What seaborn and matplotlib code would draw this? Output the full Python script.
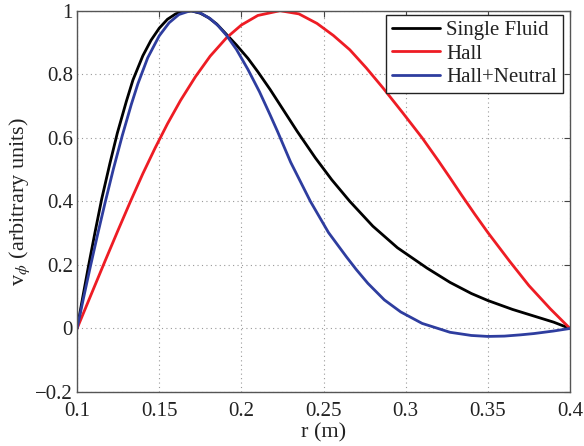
import numpy as np
import pandas as pd
import matplotlib
matplotlib.use("Agg")
import matplotlib.pyplot as plt
import seaborn as sns

# Single Fluid
r_single = [0.100, 0.1035, 0.107, 0.111, 0.115, 0.120, 0.1245, 0.130, 0.134, 0.140,
            0.145, 0.150, 0.155, 0.160, 0.165, 0.170, 0.175, 0.180, 0.185, 0.191,
            0.197, 0.204, 0.210, 0.2175, 0.225, 0.234, 0.245, 0.255, 0.266, 0.280,
            0.295, 0.313, 0.327, 0.340, 0.350, 0.365, 0.380, 0.390, 0.400]
v_single = [0.0, 0.10, 0.198, 0.305, 0.408, 0.52, 0.615, 0.715, 0.782, 0.858,
            0.907, 0.945, 0.973, 0.990, 0.998, 0.999, 0.992, 0.978, 0.958, 0.925,
            0.892, 0.850, 0.808, 0.752, 0.692, 0.620, 0.537, 0.468, 0.400, 0.322,
            0.254, 0.190, 0.145, 0.110, 0.088, 0.060, 0.036, 0.020, 0.0]

# Hall
r_hall = [0.100, 0.108, 0.117, 0.125, 0.1325, 0.140, 0.1475, 0.155, 0.163, 0.172,
          0.181, 0.191, 0.200, 0.210, 0.2235, 0.235, 0.246, 0.256, 0.266, 0.276,
          0.2865, 0.298, 0.310, 0.320, 0.327, 0.334, 0.342, 0.350, 0.3635, 0.375,
          0.388, 0.400]
v_hall = [0.0, 0.10, 0.212, 0.31, 0.40, 0.487, 0.568, 0.644, 0.718, 0.792,
          0.857, 0.915, 0.955, 0.985, 1.0, 0.990, 0.960, 0.922, 0.877, 0.820,
          0.755, 0.680, 0.600, 0.527, 0.474, 0.420, 0.360, 0.302, 0.210, 0.135,
          0.062, 0.0]

# Hall+Neutral
r_neutral = [0.100, 0.104, 0.108, 0.1125, 0.117, 0.122, 0.1275, 0.133, 0.137, 0.143,
             0.150, 0.156, 0.162, 0.169, 0.175, 0.181, 0.186, 0.191, 0.197, 0.204,
             0.211, 0.2175, 0.222, 0.230, 0.242, 0.253, 0.264, 0.270, 0.277, 0.287,
             0.297, 0.310, 0.327, 0.340, 0.350, 0.360, 0.370, 0.378, 0.390, 0.400]
v_neutral = [0.0, 0.098, 0.193, 0.296, 0.395, 0.500, 0.607, 0.705, 0.770, 0.852,
             0.921, 0.962, 0.988, 1.0, 0.993, 0.975, 0.952, 0.922, 0.878, 0.815,
             0.745, 0.672, 0.620, 0.523, 0.400, 0.302, 0.225, 0.185, 0.142, 0.090,
             0.052, 0.016, -0.012, -0.022, -0.025, -0.024, -0.020, -0.016, -0.008, 0.0]

series_names = ["Single Fluid", "Hall", "Hall+Neutral"]
colors = ["#000000", "#ee1c24", "#2e3d9f"]

x_ticks = [0.1, 0.15, 0.2, 0.25, 0.3, 0.35, 0.4]
x_tick_labels = ["0.1", "0.15", "0.2", "0.25", "0.3", "0.35", "0.4"]
y_ticks = [-0.2, 0, 0.2, 0.4, 0.6, 0.8, 1]
y_tick_labels = ["\u22120.2", "0", "0.2", "0.4", "0.6", "0.8", "1"]

df = pd.concat([
    pd.DataFrame({"r": r_single, "v": v_single, "model": series_names[0]}),
    pd.DataFrame({"r": r_hall, "v": v_hall, "model": series_names[1]}),
    pd.DataFrame({"r": r_neutral, "v": v_neutral, "model": series_names[2]}),
], ignore_index=True)

sns.set_style("white")
plt.rcParams["font.family"] = ["Liberation Serif", "DejaVu Serif"]
plt.rcParams["mathtext.fontset"] = "stix"

fig = plt.figure(figsize=(5.84, 4.46), dpi=100)
ax = fig.add_axes([0.132, 0.121, 0.844, 0.855])

sns.lineplot(data=df, x="r", y="v", hue="model", hue_order=series_names,
             palette=colors, linewidth=2.0, ax=ax, sort=False, estimator=None)
for ln in ax.get_lines():
    ln.set_solid_joinstyle("round")
    ln.set_solid_capstyle("round")

ax.set_xlim(0.1, 0.4)
ax.set_ylim(-0.2, 1.0)
ax.set_xticks(x_ticks)
ax.set_xticklabels(x_tick_labels)
ax.set_yticks(y_ticks)
ax.set_yticklabels(y_tick_labels)
ax.tick_params(axis="both", direction="in", length=4, width=0.8, colors="#444444",
               labelcolor="#222222", labelsize=15, top=True, right=True, pad=3)
ax.tick_params(axis="x", pad=7)
ax.grid(True, linestyle=(0, (1, 3)), color="#9a9a9a", linewidth=0.8)
for s in ax.spines.values():
    s.set_color("#555555")
    s.set_linewidth(1.0)

ax.set_xlabel("r (m)", fontsize=16, color="#222222", labelpad=2)
ax.set_ylabel("v$_\\phi$ (arbitrary units)", fontsize=16, color="#222222", labelpad=2)

leg = ax.legend(loc="upper right", bbox_to_anchor=(0.986, 0.990), fontsize=15,
                frameon=True, fancybox=False, edgecolor="#222222", framealpha=1,
                borderpad=0.3, handlelength=2.3, handletextpad=0.3,
                labelspacing=0.18, borderaxespad=0.0)
leg.get_frame().set_linewidth(1.0)
for t in leg.get_texts():
    t.set_color("#222222")

fig.savefig("out.png", dpi=100)
